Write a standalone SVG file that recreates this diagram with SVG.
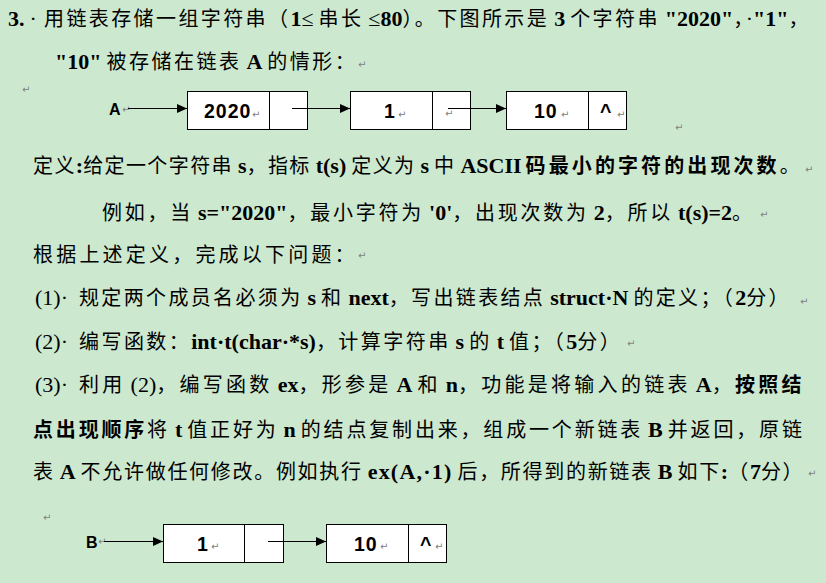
<svg xmlns="http://www.w3.org/2000/svg" width="826" height="583" viewBox="0 0 826 583">
<style>
.t{font-family:'Liberation Serif','Noto Sans CJK SC',serif;font-size:20px;fill:#000}
.b{font-family:'Liberation Serif','Noto Sans CJK SC',serif;font-weight:bold;font-size:22px;letter-spacing:0}
.r{font-family:'Liberation Serif','Noto Sans CJK SC',serif;font-size:22px;letter-spacing:0}
.cb{font-weight:bold}
.rm{font-family:'DejaVu Sans',sans-serif;font-size:10px;fill:#808080;letter-spacing:0}
.box{fill:#fff;stroke:#000;stroke-width:1}
.div{stroke:#000;stroke-width:1}
.nt{font-family:'Liberation Sans',sans-serif;font-weight:bold;font-size:19.5px;letter-spacing:1px;fill:#000}
.lb{font-family:'Liberation Sans',sans-serif;font-weight:bold;font-size:16px;fill:#000}
.cn{stroke:#000;stroke-width:1;fill:none}
</style>
<defs>
<marker id="ah" markerUnits="userSpaceOnUse" markerWidth="10" markerHeight="9" refX="10" refY="4.5" orient="auto"><path d="M0,0 L10,4.5 L0,9 z" fill="#000"/></marker>
</defs>
<rect x="0" y="0" width="826" height="583" fill="#CCE8CF"/>

<g id="text">
<text class="t" x="8" y="26" style="letter-spacing:2.4px"><tspan class="b">3.</tspan><tspan class="r" dx="5">·</tspan><tspan x="44">用链表存储一组字符串（</tspan><tspan class="b">1</tspan><tspan class="r">≤</tspan><tspan dx="5">串长</tspan><tspan class="r" dx="5">≤</tspan><tspan class="b">80</tspan><tspan>）。下图所示是</tspan><tspan class="b" dx="5">3</tspan><tspan dx="5">个字符串</tspan><tspan class="b" dx="5">"2020"</tspan><tspan>，</tspan><tspan class="r">·</tspan><tspan class="b">"1"</tspan><tspan>，</tspan></text>
<text class="t" x="55" y="69" style="letter-spacing:2.5px"><tspan class="b">"10"</tspan><tspan dx="5">被存储在链表</tspan><tspan class="b" dx="5">A</tspan><tspan dx="5">的情形：</tspan></text>
<text class="t" x="33" y="173" style="letter-spacing:1.4px">定义<tspan class="b">:</tspan><tspan>给定一个字符串</tspan><tspan class="b" dx="5">s</tspan><tspan>，指标</tspan><tspan class="b" dx="5">t(s)</tspan><tspan dx="5">定义为</tspan><tspan class="b" dx="5">s</tspan><tspan dx="5">中</tspan><tspan class="b" dx="5">ASCII</tspan><tspan class="cb" dx="4" style="letter-spacing:3.1px">码最小的字符的出现次数</tspan><tspan>。</tspan></text>
<text class="t" x="102" y="220" style="letter-spacing:2.75px">例如，当<tspan class="b" dx="5">s="2020"</tspan><tspan>，最小字符为</tspan><tspan class="b" dx="5">'0'</tspan><tspan>，出现次数为</tspan><tspan class="b" dx="5">2</tspan><tspan>，所以</tspan><tspan class="b" dx="5">t(s)=2</tspan><tspan>。</tspan></text>
<text class="t" x="33" y="262" style="letter-spacing:3.2px">根据上述定义，完成以下问题：</text>
<text class="t" x="35" y="305" style="letter-spacing:2.35px"><tspan class="r">(1)·</tspan><tspan x="79">规定两个成员名必须为</tspan><tspan class="b" dx="5">s</tspan><tspan dx="5">和</tspan><tspan class="b" dx="5">next</tspan><tspan>，写出链表结点</tspan><tspan class="b" dx="5">struct·N</tspan><tspan dx="5">的定义；（</tspan><tspan class="b">2</tspan><tspan>分）</tspan></text>
<text class="t" x="35" y="349" style="letter-spacing:2.45px"><tspan class="r">(2)·</tspan><tspan x="79">编写函数：</tspan><tspan class="b">int·t(char·*s)</tspan><tspan>，计算字符串</tspan><tspan class="b" dx="5">s</tspan><tspan dx="5">的</tspan><tspan class="b" dx="5">t</tspan><tspan dx="5">值；（</tspan><tspan class="b">5</tspan><tspan>分）</tspan></text>
<text class="t" x="35" y="392" style="letter-spacing:3.28px"><tspan class="r">(3)·</tspan><tspan x="79">利用</tspan><tspan class="r" dx="5">(2)</tspan><tspan>，编写函数</tspan><tspan class="b" dx="5">ex</tspan><tspan>，形参是</tspan><tspan class="b" dx="5">A</tspan><tspan dx="5">和</tspan><tspan class="b" dx="5">n</tspan><tspan>，功能是将输入的链表</tspan><tspan class="b" dx="5">A</tspan><tspan>，</tspan><tspan class="cb">按照结</tspan></text>
<text class="t" x="33" y="437" style="letter-spacing:2.82px"><tspan class="cb">点出现顺序</tspan><tspan>将</tspan><tspan class="b" dx="5">t</tspan><tspan dx="5">值正好为</tspan><tspan class="b" dx="5">n</tspan><tspan dx="5">的结点复制出来，组成一个新链表</tspan><tspan class="b" dx="5">B</tspan><tspan dx="5">并返回，原链</tspan></text>
<text class="t" x="33" y="479" style="letter-spacing:1.7px">表<tspan class="b" dx="5">A</tspan><tspan dx="5">不允许做任何修改。例如执行</tspan><tspan class="b" dx="5" style="letter-spacing:1.2px">ex(A,·1)</tspan><tspan dx="5">后，所得到的新链表</tspan><tspan class="b" dx="5">B</tspan><tspan dx="5">如下</tspan><tspan class="b">:</tspan><tspan>（</tspan><tspan class="b">7</tspan><tspan>分）</tspan></text>
</g>

<g id="marks">
<text class="rm" x="22" y="93">↵</text>
<text class="rm" x="358" y="68">↵</text>
<text class="rm" x="122" y="113">↵</text>
<text class="rm" x="675" y="131">↵</text>
<text class="rm" x="805" y="173">↵</text>
<text class="rm" x="760" y="218">↵</text>
<text class="rm" x="358" y="259">↵</text>
<text class="rm" x="800" y="305">↵</text>
<text class="rm" x="627" y="347">↵</text>
<text class="rm" x="808" y="477">↵</text>
<text class="rm" x="43" y="521">↵</text>
<text class="rm" x="98" y="545">↵</text>
</g>

<g id="labelA"><text class="lb" x="109" y="115">A</text></g>
<g id="labelB"><text class="lb" x="86" y="548">B</text></g>

<g id="nodeA1">
<rect class="box" x="187.5" y="91.5" width="120" height="38"/>
<line class="div" x1="269.5" y1="91.5" x2="269.5" y2="129.5"/>
<text class="nt" x="204" y="118">2020</text>
<text class="rm" x="252" y="118">↵</text>
</g>
<g id="nodeA2">
<rect class="box" x="350.5" y="91.5" width="120" height="38"/>
<line class="div" x1="432.5" y1="91.5" x2="432.5" y2="129.5"/>
<text class="nt" x="384" y="118">1</text>
<text class="rm" x="398" y="118">↵</text>
<text class="rm" x="445" y="117">↵</text>
</g>
<g id="nodeA3">
<rect class="box" x="506.5" y="91.5" width="120" height="38"/>
<line class="div" x1="588.5" y1="91.5" x2="588.5" y2="129.5"/>
<text class="nt" x="534" y="118">10</text>
<text class="rm" x="561" y="118">↵</text>
<text class="nt" x="600" y="118">^</text>
<text class="rm" x="617" y="118">↵</text>
</g>
<g id="nodeB1">
<rect class="box" x="163.5" y="524.5" width="120" height="38"/>
<line class="div" x1="244.5" y1="524.5" x2="244.5" y2="562.5"/>
<text class="nt" x="197" y="551">1</text>
<text class="rm" x="211" y="550">↵</text>
</g>
<g id="nodeB2">
<rect class="box" x="326.5" y="524.5" width="120" height="38"/>
<line class="div" x1="408.5" y1="524.5" x2="408.5" y2="562.5"/>
<text class="nt" x="354" y="551">10</text>
<text class="rm" x="380" y="550">↵</text>
<text class="nt" x="420" y="551">^</text>
<text class="rm" x="435" y="550">↵</text>
</g>

<g id="connectors">
<line class="cn" x1="128" y1="108.5" x2="187" y2="108.5" marker-end="url(#ah)"/>
<line class="cn" x1="292" y1="108.5" x2="350" y2="108.5" marker-end="url(#ah)"/>
<line class="cn" x1="448" y1="108.5" x2="506" y2="108.5" marker-end="url(#ah)"/>
<line class="cn" x1="104" y1="541.5" x2="163" y2="541.5" marker-end="url(#ah)"/>
<line class="cn" x1="268" y1="541.5" x2="326" y2="541.5" marker-end="url(#ah)"/>
</g>
</svg>
